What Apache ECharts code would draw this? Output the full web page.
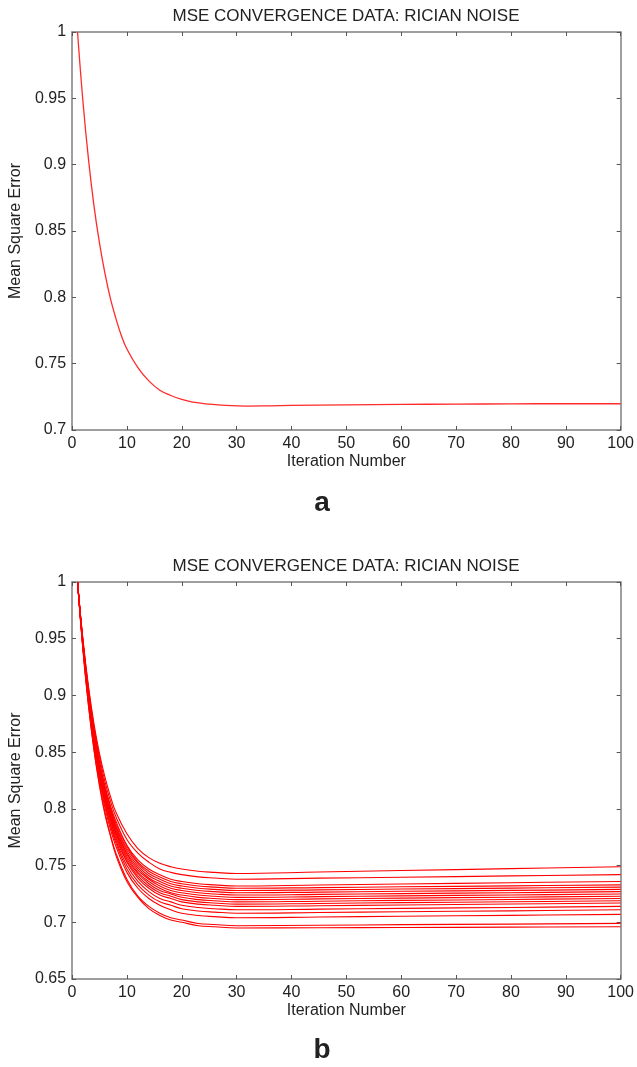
<!DOCTYPE html>
<html>
<head>
<meta charset="utf-8">
<title>MSE convergence</title>
<script src="https://cdn.jsdelivr.net/npm/echarts@6/dist/echarts.min.js"></script>
<style>
  html, body { margin: 0; padding: 0; background: #fff; }
  #main { width: 637px; height: 1067px; }
</style>
</head>
<body>
<div id="main"></div>
<script>
// panel a: single run
var itersA = [1, 2, 3, 4, 5, 6, 7, 8, 9, 10, 12, 14, 16, 18, 20, 22, 25, 28, 32, 36, 40, 50, 60, 70, 80, 90, 100];
var mseA = [1.000, 0.947, 0.904, 0.869, 0.841, 0.818, 0.799, 0.784, 0.771, 0.761, 0.747, 0.737, 0.730, 0.726,
            0.723, 0.721, 0.7195, 0.7185, 0.718, 0.7182, 0.7185, 0.719, 0.7193, 0.7195, 0.7197, 0.7198, 0.7198];

// panel b: many runs
var itersB = [1, 2, 3, 4, 5, 6, 7, 8, 10, 12, 14, 16, 18, 20, 23, 26, 30, 45, 60, 80, 100];
var runsB = [
  [1, 0.949, 0.908, 0.875, 0.849, 0.828, 0.811, 0.797, 0.778, 0.765, 0.757, 0.752, 0.749, 0.747, 0.745, 0.744, 0.743, 0.7443, 0.7456, 0.7473, 0.749],
  [1, 0.948, 0.906, 0.872, 0.846, 0.824, 0.807, 0.793, 0.773, 0.761, 0.753, 0.747, 0.744, 0.742, 0.740, 0.739, 0.738, 0.7389, 0.7397, 0.7409, 0.742],
  [1, 0.947, 0.904, 0.870, 0.842, 0.820, 0.803, 0.789, 0.768, 0.755, 0.747, 0.742, 0.738, 0.736, 0.734, 0.733, 0.732, 0.7329, 0.7337, 0.7349, 0.736],
  [1, 0.946, 0.903, 0.869, 0.841, 0.819, 0.801, 0.787, 0.767, 0.753, 0.745, 0.740, 0.736, 0.734, 0.732, 0.731, 0.730, 0.7306, 0.7313, 0.7321, 0.733],
  [1, 0.946, 0.902, 0.868, 0.840, 0.817, 0.800, 0.785, 0.765, 0.752, 0.743, 0.738, 0.734, 0.732, 0.730, 0.729, 0.728, 0.7286, 0.7293, 0.7301, 0.731],
  [1, 0.946, 0.902, 0.867, 0.839, 0.816, 0.798, 0.784, 0.763, 0.750, 0.741, 0.736, 0.732, 0.730, 0.728, 0.727, 0.726, 0.7266, 0.7273, 0.7281, 0.729],
  [1, 0.945, 0.901, 0.866, 0.837, 0.815, 0.797, 0.782, 0.761, 0.748, 0.739, 0.734, 0.730, 0.728, 0.726, 0.725, 0.724, 0.7246, 0.7253, 0.7261, 0.727],
  [1, 0.945, 0.900, 0.865, 0.836, 0.813, 0.795, 0.781, 0.760, 0.746, 0.738, 0.732, 0.728, 0.726, 0.724, 0.723, 0.722, 0.7226, 0.7233, 0.7241, 0.725],
  [1, 0.944, 0.900, 0.864, 0.835, 0.812, 0.794, 0.779, 0.758, 0.744, 0.736, 0.730, 0.726, 0.724, 0.722, 0.721, 0.720, 0.7206, 0.7213, 0.7221, 0.723],
  [1, 0.944, 0.899, 0.863, 0.834, 0.811, 0.792, 0.778, 0.756, 0.743, 0.734, 0.728, 0.725, 0.722, 0.720, 0.719, 0.718, 0.7186, 0.7193, 0.7201, 0.721],
  [1, 0.944, 0.898, 0.862, 0.833, 0.809, 0.791, 0.776, 0.754, 0.741, 0.732, 0.726, 0.723, 0.720, 0.718, 0.717, 0.716, 0.7166, 0.7173, 0.7181, 0.719],
  [1, 0.943, 0.897, 0.861, 0.832, 0.808, 0.790, 0.774, 0.753, 0.739, 0.730, 0.724, 0.721, 0.718, 0.716, 0.715, 0.714, 0.7146, 0.7153, 0.7161, 0.717],
  [1, 0.943, 0.896, 0.859, 0.830, 0.806, 0.787, 0.772, 0.750, 0.736, 0.727, 0.721, 0.718, 0.715, 0.713, 0.712, 0.711, 0.7116, 0.7123, 0.7131, 0.714],
  [1, 0.942, 0.895, 0.858, 0.828, 0.804, 0.785, 0.770, 0.747, 0.733, 0.724, 0.718, 0.715, 0.712, 0.710, 0.709, 0.708, 0.7086, 0.7093, 0.7101, 0.711],
  [1, 0.941, 0.894, 0.856, 0.826, 0.801, 0.782, 0.767, 0.744, 0.730, 0.721, 0.715, 0.711, 0.708, 0.706, 0.705, 0.704, 0.7046, 0.7053, 0.7061, 0.707],
  [1, 0.940, 0.891, 0.852, 0.822, 0.797, 0.777, 0.761, 0.738, 0.723, 0.714, 0.708, 0.704, 0.702, 0.699, 0.698, 0.697, 0.6974, 0.6979, 0.6984, 0.699],
  [1, 0.939, 0.891, 0.852, 0.820, 0.795, 0.776, 0.759, 0.736, 0.722, 0.712, 0.706, 0.702, 0.700, 0.697, 0.696, 0.695, 0.6952, 0.6954, 0.6957, 0.696]
];

var titleText = 'MSE CONVERGENCE DATA: RICIAN NOISE';
var font = 'Liberation Sans, Arial, sans-serif';
var boxColor = '#7f7f7f';
var tickColor = '#555';
var textColor = '#222';

function pairs(xs, ys) {
  return xs.map(function (x, i) { return [x, ys[i]]; });
}

// bottom + mirrored top x axis, left + mirrored right y axis (matlab style box)
function xAxes(gi) {
  var base = {
    type: 'value', gridIndex: gi, min: 0, max: 100, interval: 10,
    splitLine: { show: false },
    axisLine: { show: true, onZero: false, lineStyle: { color: boxColor, width: 1.5 } },
    axisTick: { show: true, inside: true, length: 4, lineStyle: { color: tickColor } }
  };
  return [
    Object.assign({}, base, {
      position: 'bottom',
      axisLabel: { color: textColor, fontSize: 16, fontFamily: font, margin: 6 },
      name: 'Iteration Number', nameLocation: 'middle', nameGap: 24,
      nameTextStyle: { color: textColor, fontSize: 16, fontFamily: font }
    }),
    Object.assign({}, base, { position: 'top', axisLabel: { show: false } })
  ];
}

function yAxes(gi, yMin) {
  var base = {
    type: 'value', gridIndex: gi, min: yMin, max: 1, interval: 0.05,
    splitLine: { show: false },
    axisLine: { show: true, onZero: false, lineStyle: { color: boxColor, width: 1.5 } },
    axisTick: { show: true, inside: true, length: 4, lineStyle: { color: tickColor } }
  };
  return [
    Object.assign({}, base, {
      position: 'left',
      axisLabel: { color: textColor, fontSize: 16, fontFamily: font, margin: 6 },
      name: 'Mean Square Error', nameLocation: 'middle', nameGap: 42,
      nameTextStyle: { color: textColor, fontSize: 16, fontFamily: font }
    }),
    Object.assign({}, base, { position: 'right', axisLabel: { show: false } })
  ];
}

var seriesList = [{
  type: 'line', xAxisIndex: 0, yAxisIndex: 0,
  data: pairs(itersA, mseA),
  smooth: 0.4, showSymbol: false,
  lineStyle: { color: '#ff2a2a', width: 1.3 }
}];
runsB.forEach(function (run) {
  seriesList.push({
    type: 'line', xAxisIndex: 2, yAxisIndex: 2,
    data: pairs(itersB, run),
    smooth: 0.4, showSymbol: false,
    color: '#ff0000',
    lineStyle: { color: '#ff0000', width: 1.1 }
  });
});

function label(text, x, y, size, weight) {
  return {
    type: 'text', x: x, y: y,
    style: { text: text, fill: textColor, font: weight + ' ' + size + 'px ' + font, textAlign: 'center', textVerticalAlign: 'middle' }
  };
}

var chart = echarts.init(document.getElementById('main'));
chart.setOption({
  animation: false,
  backgroundColor: '#fff',
  grid: [
    { left: 70, top: 32, width: 551, height: 398 },
    { left: 70, top: 582, width: 551, height: 397 }
  ],
  xAxis: xAxes(0).concat(xAxes(1)),
  yAxis: yAxes(0, 0.7).concat(yAxes(1, 0.65)),
  graphic: [
    label(titleText, 346, 16, 17, 'normal'),
    label('a', 322, 503, 28, 'bold'),
    label(titleText, 346, 566, 17, 'normal'),
    label('b', 322, 1050, 28, 'bold')
  ],
  series: seriesList
});
</script>
</body>
</html>
